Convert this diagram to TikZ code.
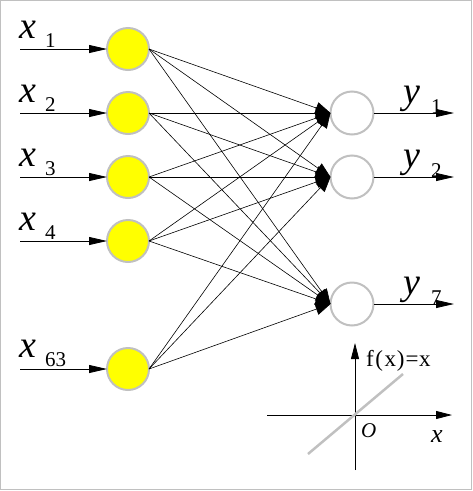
\documentclass[tikz,border=0pt]{standalone}
\usepackage{fontspec}
\setmainfont{Liberation Serif}
\usetikzlibrary{arrows.meta}
\definecolor{ringgrey}{RGB}{192,192,192}
\definecolor{nodeyellow}{RGB}{255,255,0}
\tikzset{
  innode/.style={circle,draw=ringgrey,line width=2pt,fill=nodeyellow,minimum size=42pt,inner sep=0pt,outer sep=0pt},
  outnode/.style={circle,draw=ringgrey,line width=2pt,fill=white,minimum size=43pt,inner sep=0pt,outer sep=0pt},
  inarrow/.style={line width=0.8pt,-{Triangle[length=18pt,width=8pt]}},
  conn/.style={line width=0.6pt,-{Triangle[length=15pt,width=12pt]}},
  axisarrow/.style={line width=0.8pt,-{Triangle[length=16pt,width=8pt]}},
  bigvar/.style={anchor=base west,inner sep=0pt,font=\fontsize{38}{38}\selectfont\itshape},
  subvar/.style={anchor=base west,inner sep=0pt,font=\fontsize{21}{21}\selectfont},
}
\begin{document}
\begin{tikzpicture}[x=1pt,y=-1pt]
\useasboundingbox (0,0) rectangle (473,491);
\draw[ringgrey,line width=1pt] (0.5,0.5) rectangle (471.5,489.5);
% input nodes
\node[innode] (i1) at (128,49) {};
\node[innode] (i2) at (128,113) {};
\node[innode] (i3) at (128,177) {};
\node[innode] (i4) at (128,241) {};
\node[innode] (i5) at (128,369) {};
% output nodes
\node[outnode] (o1) at (352,113) {};
\node[outnode] (o2) at (352,177) {};
\node[outnode] (o3) at (352,304) {};
% input arrows
\foreach \k/\y in {1/49,2/113,3/177,4/241,5/369}{
  \coordinate (s\k) at (20,\y);
  \draw[inarrow] (s\k) -- (i\k.west);
}
% labels
\node[bigvar] (lx1) at (19,38) {x};
\node[subvar] (ls1) at (45,47) {1};
\node[bigvar] (lx2) at (19,102) {x};
\node[subvar] (ls2) at (45,111) {2};
\node[bigvar] (lx3) at (19,166) {x};
\node[subvar] (ls3) at (45,175) {3};
\node[bigvar] (lx4) at (19,230) {x};
\node[subvar] (ls4) at (45,239) {4};
\node[bigvar] (lx5) at (19,357) {x};
\node[subvar] (ls5) at (45,366) {63};
% connections
\foreach \a in {1,...,5}{
  \foreach \b in {1,2,3}{
    \draw[conn] (i\a.east) -- (o\b.west);
  }
}
% output arrows
\foreach \k/\y in {1/113,2/177,3/304}{
  \coordinate (t\k) at (454,\y);
  \draw[inarrow] (o\k.east) -- (t\k);
}
\node[bigvar] (ly1) at (403,103) {y};
\node[subvar] (lt1) at (431,113) {1};
\node[bigvar] (ly2) at (403,167) {y};
\node[subvar] (lt2) at (431,177) {2};
\node[bigvar] (ly3) at (403,294) {y};
\node[subvar] (lt3) at (431,304) {7};
% inset
\coordinate (vb) at (355,470);
\coordinate (vt) at (355,343);
\coordinate (hl) at (267,415);
\coordinate (hr) at (452,415);
\draw[axisarrow] (vb) -- (vt);
\draw[axisarrow] (hl) -- (hr);
\coordinate (g1) at (308,454);
\coordinate (g2) at (403,374);
\draw[ringgrey,line width=2.5pt] (g1) -- (g2);
\node[anchor=base west,inner sep=0pt,font=\fontsize{23}{23}\selectfont] (fl) at (366,366) {f\kern1.5pt(\kern1.5pt x\kern1pt)\kern1pt=\kern0.5pt x};
\node[anchor=base west,inner sep=0pt,font=\fontsize{21}{21}\selectfont\itshape] (lo) at (361,437) {O};
\node[anchor=base west,inner sep=0pt,font=\fontsize{26}{26}\selectfont\itshape] (lx) at (431,442) {x};
\end{tikzpicture}
\end{document}
